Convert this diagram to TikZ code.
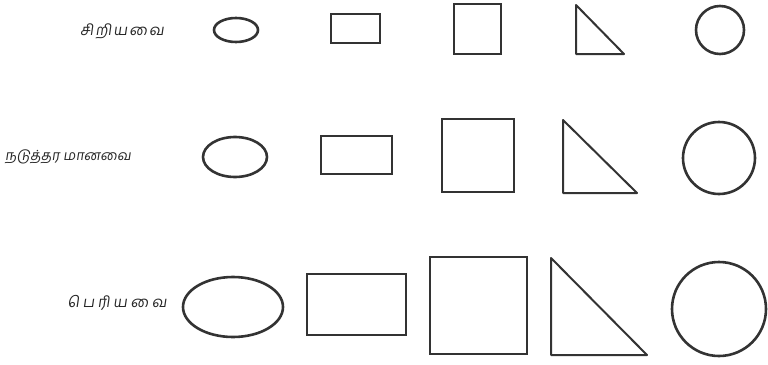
\documentclass[tikz,border=0pt]{standalone}
\usepackage{fontspec}
\newfontfamily\tamil[Script=Tamil,FakeSlant=0.15]{Hind Madurai}
\begin{document}
\begin{tikzpicture}[x=1pt,y=-1pt,
  shp/.style={draw=black!80, line width=2pt},
  rnd/.style={draw=black!80, line width=2.6pt},
  lbl/.style={font=\tamil\fontsize{15}{17}\selectfont, text=black!85, inner sep=0pt}]
\useasboundingbox (0,0) rectangle (768,364);
% labels
\node[lbl] (small) at (122,31) {\addfontfeature{LetterSpace=12}சிறியவை};
\node[lbl, anchor=west, font=\tamil\fontsize{14}{16}\selectfont] (medium) at (5,157) {நடுத்தர மானவை};
\node[lbl] (large) at (117,303) {\addfontfeature{LetterSpace=22}பெரியவை};
% row 1
\draw[rnd] (236,30) ellipse [x radius=22, y radius=12];
\draw[shp] (331,14) rectangle (380,43);
\draw[shp] (454,4) rectangle (501,54);
\draw[shp, line join=round] (576,5) -- (576,54) -- (624,54) -- cycle;
\draw[rnd] (720,30) circle [radius=24];
% row 2
\draw[rnd] (235,157) ellipse [x radius=32, y radius=20];
\draw[shp] (321,136) rectangle (392,174);
\draw[shp] (442,119) rectangle (514,192);
\draw[shp, line join=round] (563,120) -- (563,193) -- (637,193) -- cycle;
\draw[rnd] (719,158) circle [radius=36];
% row 3
\draw[rnd] (233,307) ellipse [x radius=50, y radius=30];
\draw[shp] (307,274) rectangle (406,335);
\draw[shp] (430,257) rectangle (527,354);
\draw[shp, line join=round] (551,258) -- (551,355) -- (647,355) -- cycle;
\draw[rnd] (719,309) circle [radius=47];
\end{tikzpicture}
\end{document}
